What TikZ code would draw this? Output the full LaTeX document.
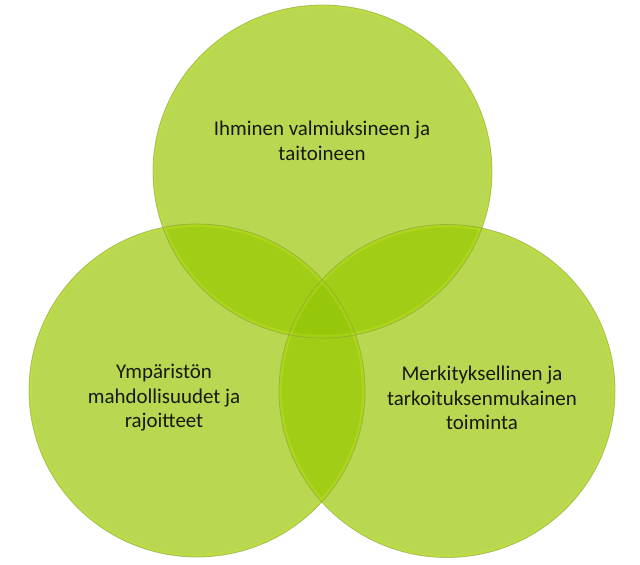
\documentclass[tikz,border=0pt]{standalone}
\usepackage{fontspec}
\setmainfont{Carlito}
\definecolor{onec}{RGB}{185,215,80}
\definecolor{twoc}{RGB}{161,205,22}
\definecolor{threec}{RGB}{150,199,10}
\definecolor{rimc}{RGB}{198,232,45}
\definecolor{circedge}{RGB}{135,155,60}
\definecolor{txt}{RGB}{22,26,18}
\begin{document}
\begin{tikzpicture}[x=1bp,y=-1bp,
  edge/.style={draw=circedge,draw opacity=0.55,line width=0.8bp},
  rim/.style={draw=rimc,draw opacity=0.3,line width=6bp},
  lbl/.style={align=center,text=txt,font=\fontsize{21}{24.5}\selectfont,inner sep=0pt}]
\useasboundingbox (0,0) rectangle (640,565);
\fill[white] (0,0) rectangle (640,565);
\def\cA{(322.5,171.5) ellipse [x radius=169.5, y radius=166.5]}
\def\cB{(197,390.5) ellipse [x radius=168, y radius=166.5]}
\def\cC{(447,391) ellipse [x radius=168, y radius=166.5]}
\fill[fill=onec] \cA;
\fill[fill=onec] \cB;
\fill[fill=onec] \cC;
\begin{scope}\clip \cA; \fill[fill=twoc] \cB; \fill[fill=twoc] \cC; \end{scope}
\begin{scope}\clip \cB; \fill[fill=twoc] \cC; \end{scope}
\begin{scope}\clip \cA; \clip \cB; \fill[fill=threec] \cC; \end{scope}
\begin{scope}\clip \cA; \path[rim] \cA; \end{scope}
\begin{scope}\clip \cB; \path[rim] \cB; \end{scope}
\begin{scope}\clip \cC; \path[rim] \cC; \end{scope}
\path[edge] \cA;
\path[edge] \cB;
\path[edge] \cC;
\node[lbl] (top) at (322,141) {Ihminen valmiuksineen ja\\taitoineen};
\node[lbl] (left) at (164,398) {Ympäristön\\mahdollisuudet ja\\rajoitteet};
\node[lbl] (right) at (482,398) {Merkityksellinen ja\\tarkoituksenmukainen\\toiminta};
\end{tikzpicture}
\end{document}
